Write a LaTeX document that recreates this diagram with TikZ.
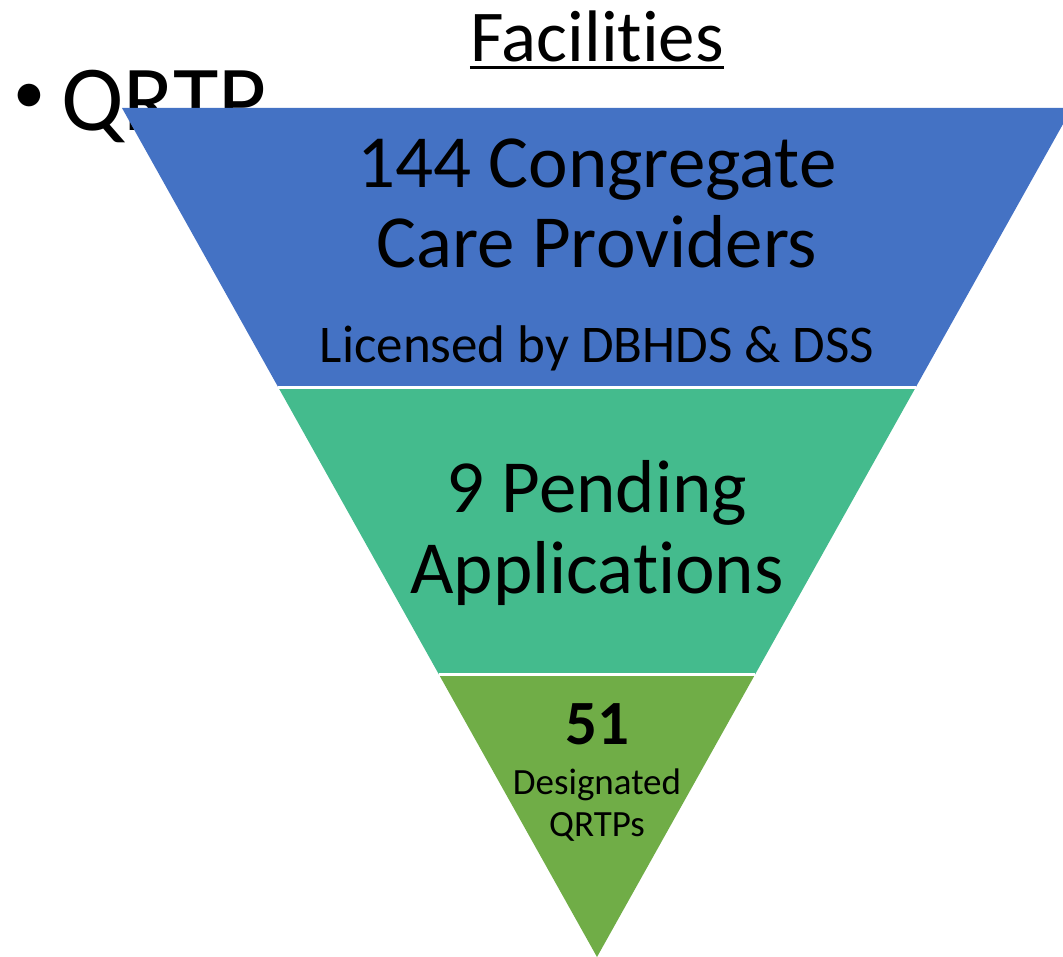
\documentclass[tikz,border=0pt]{standalone}
\usepackage{fontspec}
\setmainfont{Carlito}[RawFeature={-liga;-clig;-dlig}]
\usepackage{xcolor}
\usetikzlibrary{calc,positioning}
\definecolor{bandblue}{HTML}{4472C4}
\definecolor{bandteal}{HTML}{44BB8D}
\definecolor{bandgreen}{HTML}{70AD47}
\tikzstyle{lbl}=[inner sep=0pt, anchor=base, text=black]
\tikzstyle{gap}=[draw=white, line width=3.5pt]

\begin{document}
\begin{tikzpicture}[x=1pt, y=-1pt]
            \useasboundingbox (0,0) rectangle (1063,957);
            \clip (0,0) rectangle (1063,957);
            % bullet text behind the funnel
            \node[lbl, anchor=center] (dot) at (29,99) {\fontsize{64}{70}\selectfont \textbullet};
            \node[lbl, anchor=base west] (qrtp) at (61,131) {\fontsize{93}{100}\selectfont QRTP};
            % funnel corners
            \coordinate (tl) at (122,108);
            \coordinate (tr) at (1072,108);
            \coordinate (apex) at (597,957);
            \coordinate (l1) at ($(tl)!0.3290!(apex)$);
            \coordinate (r1) at ($(tr)!0.3290!(apex)$);
            \coordinate (l2) at ($(tl)!0.6670!(apex)$);
            \coordinate (r2) at ($(tr)!0.6670!(apex)$);
            \fill[bandblue] (tl) -- (tr) -- (r1) -- (l1) -- cycle;
            \fill[bandteal] (l1) -- (r1) -- (r2) -- (l2) -- cycle;
            \fill[bandgreen] (l2) -- (r2) -- (apex) -- cycle;
            \draw[gap] (l1) -- (r1);
            \draw[gap] (l2) -- (r2);
            % title
            \node[lbl] (title) at (597,62) {\fontsize{73}{80}\selectfont Facilities};
            \draw[line width=3pt] ([yshift=-6pt]title.base west) -- ([yshift=-6pt]title.base east);
            % top band
            \node[lbl] (cong) at (597,188) {\fontsize{75}{80}\selectfont 144 Congregate};
            \node[lbl] (care) at (597,268) {\fontsize{75}{80}\selectfont Care Providers};
            \node[lbl] (lic) at (597,363) {\fontsize{53}{60}\selectfont Licensed by DBHDS \& DSS};
            % middle band
            \node[lbl] (pend) at (597,512) {\fontsize{75}{80}\selectfont 9 Pending};
            \node[lbl] (appl) at (597,593) {\fontsize{75}{80}\selectfont Applications};
            % bottom band
            \node[lbl] (num) at (597,744) {\fontsize{63}{70}\selectfont\bfseries 51};
            \node[lbl] (desig) at (597,794) {\fontsize{37}{40}\selectfont Designated};
            \node[lbl] (qrtps) at (597,836) {\fontsize{37}{40}\selectfont QRTPs};
\end{tikzpicture}
\end{document}
